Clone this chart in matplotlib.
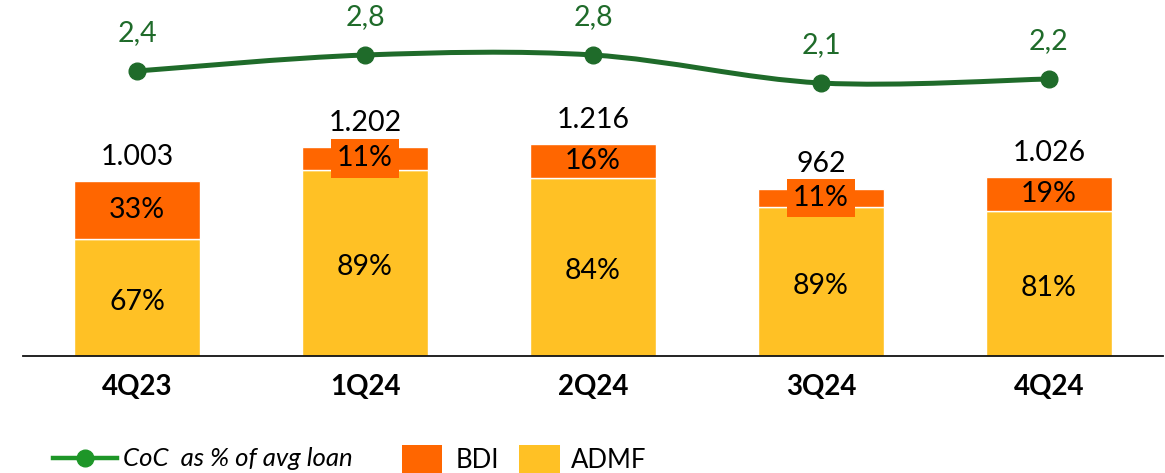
import matplotlib.pyplot as plt
from matplotlib.path import Path
from matplotlib.patches import PathPatch, Rectangle
from matplotlib.lines import Line2D
import numpy as np

# quarters, totals and shares
quarters = ["4Q23", "1Q24", "2Q24", "3Q24", "4Q24"]
totals = [1003, 1202, 1216, 962, 1026]
bdi_pct = [33, 11, 16, 11, 19]
admf_pct = [67, 89, 84, 89, 81]
coc = [2.4, 2.8, 2.8, 2.1, 2.2]
coc_labels = ["2,4", "2,8", "2,8", "2,1", "2,2"]
total_labels = ["1.003", "1.202", "1.216", "962", "1.026"]

ORANGE = "#FF6600"
YELLOW = "#FFC125"
GREEN = "#1F6B2A"
GREEN_LEG = "#1E9628"

plt.rcParams['font.family'] = ['Lato', 'DejaVu Sans']

fig = plt.figure(figsize=(11.65, 4.73), dpi=100)
ax = fig.add_axes([23 / 1165, 117 / 473, 1140 / 1165, 356 / 473])

x = np.arange(len(quarters))
tot = np.array(totals, dtype=float)
admf = tot * np.array(admf_pct) / 100
bdi = tot - admf
w = 0.553
FS = 20.5

ax.bar(x, admf, w, color=YELLOW, edgecolor="white", linewidth=1)
ax.bar(x, bdi, w, bottom=admf, color=ORANGE, edgecolor="white", linewidth=1)

for i in range(len(x)):
    ax.annotate(f"{admf_pct[i]}%", (x[i], admf[i] / 2), xytext=(0, -3),
                textcoords="offset points", ha="center", va="center",
                fontsize=FS, color="black")
    box = None
    if bdi[i] * 0.174 < 30:
        box = dict(boxstyle="square,pad=0.22", facecolor=ORANGE, edgecolor="none")
    ax.text(x[i], admf[i] + bdi[i] / 2, f"{bdi_pct[i]}%", ha="center", va="center",
            fontsize=FS, color="black", bbox=box)
    ax.annotate(total_labels[i], (x[i], tot[i]), xytext=(0, 17.5),
                textcoords="offset points", ha="center", va="center",
                fontsize=FS, color="black")

ax.set_xlim(-0.5, 4.5)
ax.set_ylim(0, 356 / 0.174)
ax.set_xticks(x)
ax.set_xticklabels(quarters, fontsize=20, fontweight="bold")
ax.tick_params(axis="x", length=0, pad=13)
ax.set_yticks([])
for s in ["top", "left", "right"]:
    ax.spines[s].set_visible(False)
ax.spines["bottom"].set_linewidth(1.3)
ax.spines["bottom"].set_color("#111111")

# CoC line on its own scale, smoothed with Catmull-Rom style bezier segments
ax2 = ax.twinx()
ax2.set_ylim(-4.725, 4.175)
ax2.axis("off")
pts = np.column_stack([x, coc])
verts = [pts[0]]
codes = [Path.MOVETO]
for i in range(len(pts) - 1):
    p0 = pts[i - 1] if i > 0 else pts[i]
    p1, p2 = pts[i], pts[i + 1]
    p3 = pts[i + 2] if i + 2 < len(pts) else pts[i + 1]
    c1 = p1 + (p2 - p0) / 6
    c2 = p2 - (p3 - p1) / 6
    verts += [c1, c2, p2]
    codes += [Path.CURVE4] * 3
ax2.add_patch(PathPatch(Path(verts, codes), facecolor="none", edgecolor=GREEN,
                        linewidth=3.6, capstyle="round"))
ax2.plot(x, coc, "o", color=GREEN, markersize=12)
for i in range(len(x)):
    ax2.annotate(coc_labels[i], (x[i], coc[i]), xytext=(0, 27),
                 textcoords="offset points", ha="center", va="center",
                 fontsize=FS, color=GREEN)

# legend along the bottom edge
H = 473.0
W = 1165.0
fig.add_artist(Line2D([53 / W, 117 / W], [1 - 458 / H] * 2, color=GREEN_LEG,
                      linewidth=3.2, transform=fig.transFigure))
fig.add_artist(Line2D([85 / W], [1 - 458 / H], marker="o", markersize=12,
                      color=GREEN_LEG, transform=fig.transFigure))
fig.text(123 / W, 1 - 458 / H, "CoC  as % of avg loan", fontsize=18.5,
         style="italic", va="center", ha="left")
fig.add_artist(Rectangle((402 / W, 0), 40 / W, 28 / H, facecolor=ORANGE,
                         edgecolor="none", transform=fig.transFigure))
fig.text(456 / W, 1 - 460 / H, "BDI", fontsize=18.5, va="center", ha="left")
fig.add_artist(Rectangle((519 / W, 0), 41 / W, 28 / H, facecolor=YELLOW,
                         edgecolor="none", transform=fig.transFigure))
fig.text(571 / W, 1 - 460 / H, "ADMF", fontsize=18.5, va="center", ha="left")

fig.savefig("out.png", dpi=100)
